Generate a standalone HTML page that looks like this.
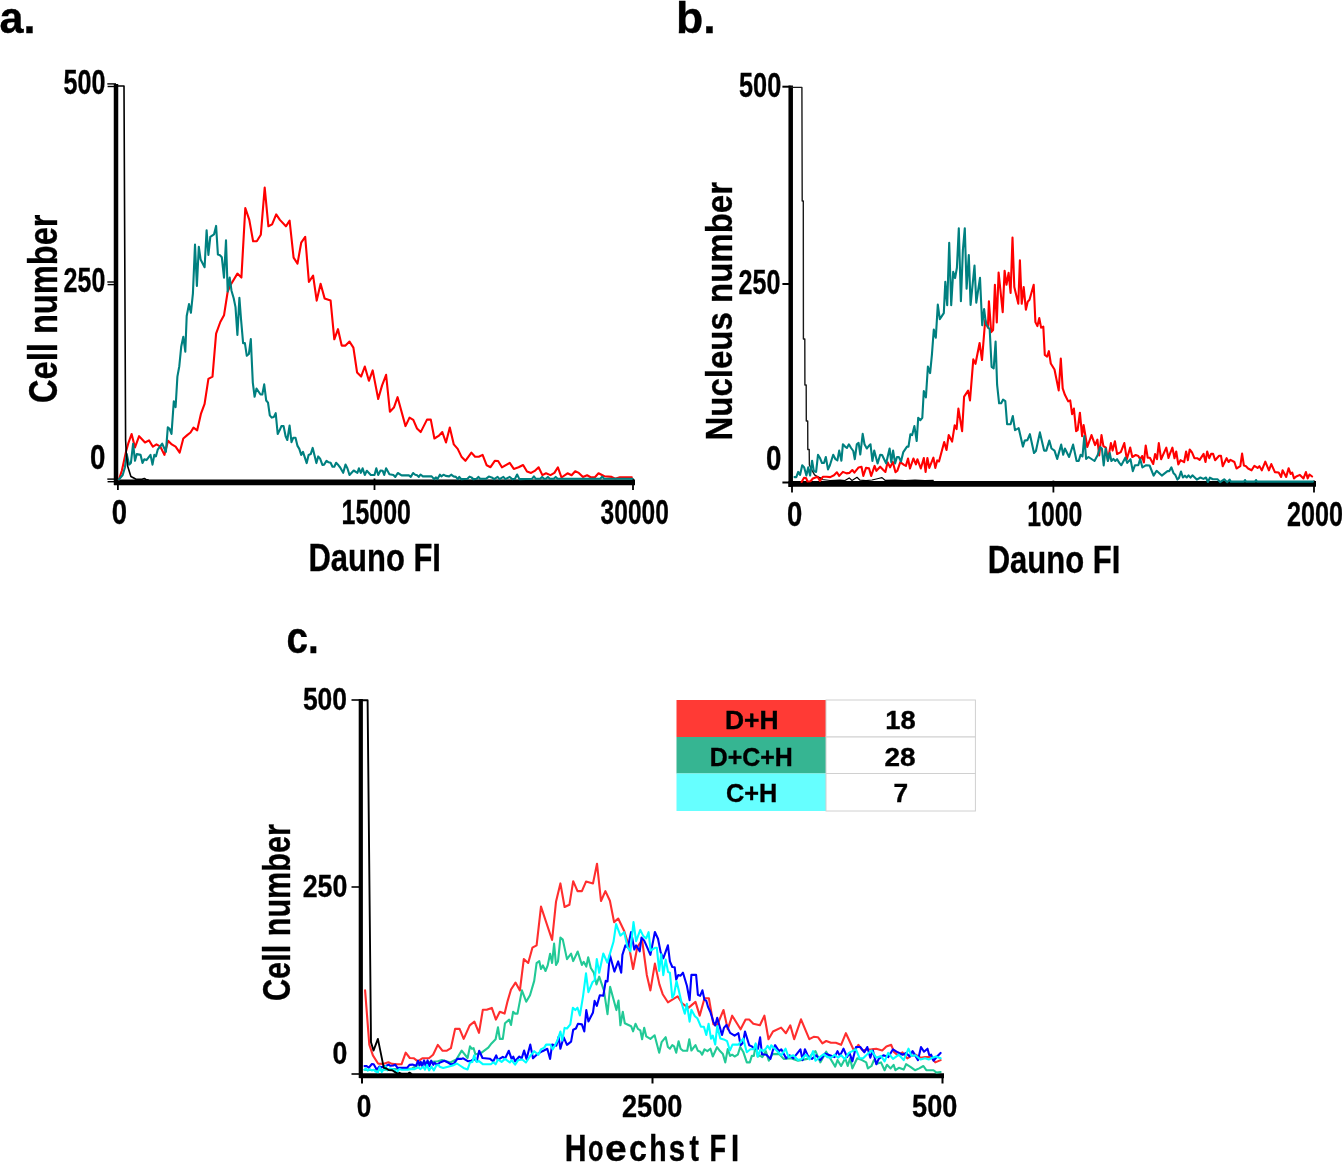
<!DOCTYPE html>
<html><head><meta charset="utf-8"><style>
html,body{margin:0;padding:0;background:#fff;}
svg{display:block;will-change:transform;}
</style></head><body>
<svg width="1342" height="1162" viewBox="0 0 1342 1162">
<rect width="1342" height="1162" fill="#fff"/>
<text x="-0.50" y="33.4" font-size="44" textLength="36.00" lengthAdjust="spacingAndGlyphs" font-family="Liberation Sans, sans-serif" font-weight="bold" stroke="#000" stroke-width="0.35" >a.</text>
<text x="676.00" y="33.0" font-size="44" textLength="39.70" lengthAdjust="spacingAndGlyphs" font-family="Liberation Sans, sans-serif" font-weight="bold" stroke="#000" stroke-width="0.35" >b.</text>
<text x="286.50" y="653.3" font-size="44" textLength="32.30" lengthAdjust="spacingAndGlyphs" font-family="Liberation Sans, sans-serif" font-weight="bold" stroke="#000" stroke-width="0.35" >c.</text>
<g stroke="#000" fill="none">
<line x1="116" y1="84" x2="116" y2="485" stroke-width="4.5"/>
<line x1="114" y1="482.4" x2="635" y2="482.4" stroke-width="5.8"/>
<line x1="107.3" y1="83.9" x2="116" y2="83.9" stroke-width="1.4"/>
<line x1="107.6" y1="86.5" x2="116" y2="86.5" stroke-width="1.4"/>
<line x1="107.3" y1="282.0" x2="116" y2="282.0" stroke-width="1.4"/>
<line x1="107.6" y1="284.6" x2="116" y2="284.6" stroke-width="1.4"/>
<line x1="107.3" y1="479.09999999999997" x2="116" y2="479.09999999999997" stroke-width="1.4"/>
<line x1="107.6" y1="481.7" x2="116" y2="481.7" stroke-width="1.4"/>
<line x1="117.9" y1="478.5" x2="117.9" y2="490" stroke-width="1.8"/>
<line x1="374.5" y1="478.5" x2="374.5" y2="490" stroke-width="1.8"/>
<line x1="633" y1="478.5" x2="633" y2="490" stroke-width="1.8"/>
</g>
<polyline points="118.9,479.5 121.9,470.5 126.1,451.1 128.2,443.7 131.6,434.0 135.0,447.4 139.1,436.2 142.0,439.2 145.0,442.5 149.0,440.4 152.9,446.7 156.5,444.4 160.4,446.7 164.4,454.9 168.1,440.7 171.8,444.4 175.6,446.7 179.7,452.6 183.3,438.5 187.2,435.1 190.5,432.5 193.5,427.6 197.2,430.3 200.9,413.9 204.6,403.8 208.4,378.9 212.5,376.6 216.1,333.7 220.3,322.0 224.0,315.3 227.7,291.5 230.7,284.8 237.4,273.6 241.4,277.6 245.3,208.0 249.3,219.9 253.1,241.2 256.8,241.2 260.8,234.8 264.7,187.6 268.4,226.3 272.1,224.4 276.2,214.4 279.9,219.9 285.9,226.3 289.6,220.7 293.6,257.6 297.5,263.6 301.2,242.7 305.2,236.8 308.9,282.0 313.1,275.7 316.7,300.6 320.6,283.8 324.6,298.4 330.6,300.6 334.3,339.3 338.0,329.2 341.7,345.6 345.5,345.6 349.5,341.6 353.4,347.6 357.1,372.5 361.1,376.6 364.8,366.5 368.9,380.8 372.7,370.4 378.2,399.0 382.0,385.6 386.1,374.8 389.9,411.7 393.9,407.6 397.6,397.2 405.5,426.1 409.5,417.6 413.3,419.9 417.0,428.5 420.7,432.1 427.0,419.6 430.8,419.6 434.4,438.5 438.6,435.9 442.3,432.1 446.0,442.5 449.8,427.6 453.8,444.4 457.7,448.9 461.7,457.1 465.4,460.8 471.4,452.6 475.1,456.8 478.8,456.8 482.6,454.9 486.7,465.3 490.5,467.2 494.8,460.8 498.1,461.0 501.9,467.3 509.7,462.9 513.8,468.9 518.6,467.3 523.1,465.0 527.0,471.5 531.1,472.9 534.7,470.9 538.6,467.3 542.4,475.1 546.0,473.3 550.5,475.1 554.4,472.9 557.9,467.3 561.5,477.5 567.5,473.3 571.6,475.3 575.2,471.3 578.8,472.9 583.0,476.9 587.1,475.3 590.7,477.2 594.9,477.2 598.5,473.3 604.4,476.3 611.6,476.9 615.1,478.7 619.9,477.2 631.8,477.2" fill="none" stroke="#ff0000" stroke-width="2.1" stroke-linejoin="round" stroke-linecap="round"/>
<polyline points="118.9,479.5 122.7,475.0 124.9,467.5 126.7,454.1 129.1,464.6 130.9,463.0 133.1,443.7 135.0,460.8 136.8,454.1 140.6,454.9 142.5,463.0 144.3,459.3 146.5,460.1 150.5,454.9 152.5,464.6 154.3,454.9 155.9,456.4 157.7,449.7 162.2,443.7 165.9,451.9 167.8,427.3 169.6,428.8 171.5,434.0 173.8,401.2 175.6,407.2 177.4,376.6 179.3,366.2 181.2,346.8 183.3,336.7 185.3,351.6 186.7,316.0 189.0,304.1 190.9,312.8 192.9,293.7 195.0,244.5 196.9,286.0 198.8,246.7 200.6,259.4 204.6,267.2 206.6,230.2 208.4,255.0 210.3,236.8 214.0,234.4 216.1,225.9 217.9,254.6 220.0,255.2 221.8,257.2 224.0,277.6 226.0,240.3 227.7,291.5 229.7,277.6 231.5,290.7 233.7,298.2 235.5,307.1 237.4,334.9 239.4,297.9 241.1,320.0 243.1,343.1 244.9,343.1 246.8,355.8 248.9,354.0 250.8,339.1 252.8,382.6 254.6,396.8 256.5,388.6 260.5,394.5 262.3,394.5 264.2,384.4 266.2,400.5 268.0,402.7 269.8,415.4 271.7,417.6 273.9,416.9 275.7,413.1 277.7,434.0 279.6,430.3 281.4,426.1 283.6,426.1 285.6,436.2 287.3,440.0 289.6,425.5 291.5,442.2 293.3,437.7 295.5,437.7 297.5,445.9 299.3,448.9 301.2,454.9 303.0,451.9 306.7,463.1 308.6,454.9 310.7,454.1 312.7,447.9 316.4,463.1 318.2,456.4 320.1,458.6 322.4,464.9 324.1,464.6 326.5,460.8 328.6,462.3 330.6,462.8 332.5,466.8 334.3,466.8 336.1,462.8 338.5,465.3 340.2,467.5 343.2,472.8 345.5,464.6 347.4,468.3 349.5,475.0 353.7,470.5 357.4,472.8 358.9,468.3 360.8,472.8 362.6,468.3 364.8,475.0 366.8,470.8 370.8,475.0 374.5,475.0 376.3,468.3 378.2,475.0 380.5,470.5 382.7,470.8 384.2,475.0 386.1,468.3 389.4,474.2 393.4,475.0 395.3,476.9 397.8,473.0 401.6,475.4 408.9,475.4 410.8,476.9 413.1,473.0 415.2,474.7 417.1,475.2 418.9,476.9 420.5,474.5 422.9,476.4 431.7,476.4 434.1,479.1 436.0,477.4 437.5,479.1 439.9,474.7 441.4,476.4 443.5,474.7 445.7,475.9 449.1,476.4 451.2,474.7 453.5,476.4 455.9,476.9 457.8,479.1 459.3,476.9 461.2,479.1 467.5,478.8 469.5,476.6 471.4,477.4 473.3,479.1 476.7,478.8 478.4,476.9 480.1,478.8 485.9,478.8 488.8,476.6 491.7,477.4 494.2,479.1 497.6,476.9 499.5,479.1 503.4,476.9 505.3,479.1 509.7,476.9 512.1,479.1 515.0,478.8 517.1,474.5 519.4,479.1 532.0,478.8 533.9,476.4 535.8,478.8 540.2,478.8 542.1,476.9 544.0,478.8 546.0,478.8 547.9,476.9 549.8,478.8 553.8,478.8 555.7,476.9 557.6,478.8 600.3,478.8 602.2,476.6 604.1,478.8 632.2,478.8" fill="none" stroke="#008080" stroke-width="2.1" stroke-linejoin="round" stroke-linecap="round"/>
<polyline points="117.0,86.0 124.0,86.0 125.6,440.0 126.2,452.0 127.6,466.0 130.9,476.5 133.8,478.0 136.0,479.2 142.0,479.3 144.3,478.5 146.0,479.5 148.0,479.8" fill="none" stroke="#000" stroke-width="1.6" stroke-linejoin="round" stroke-linecap="round"/>
<text x="63.40" y="93.8" font-size="35.5" textLength="42.00" lengthAdjust="spacingAndGlyphs" font-family="Liberation Sans, sans-serif" font-weight="bold" stroke="#000" stroke-width="0.35" >500</text>
<text x="63.60" y="291.7" font-size="35.5" textLength="41.70" lengthAdjust="spacingAndGlyphs" font-family="Liberation Sans, sans-serif" font-weight="bold" stroke="#000" stroke-width="0.35" >250</text>
<text x="90.00" y="468.5" font-size="35.5" textLength="15.40" lengthAdjust="spacingAndGlyphs" font-family="Liberation Sans, sans-serif" font-weight="bold" stroke="#000" stroke-width="0.35" >0</text>
<text x="111.70" y="523.9" font-size="35.5" textLength="15.30" lengthAdjust="spacingAndGlyphs" font-family="Liberation Sans, sans-serif" font-weight="bold" stroke="#000" stroke-width="0.35" >0</text>
<text x="341.60" y="524.0" font-size="35.5" textLength="69.40" lengthAdjust="spacingAndGlyphs" font-family="Liberation Sans, sans-serif" font-weight="bold" stroke="#000" stroke-width="0.35" >15000</text>
<text x="600.60" y="524.0" font-size="35.5" textLength="68.20" lengthAdjust="spacingAndGlyphs" font-family="Liberation Sans, sans-serif" font-weight="bold" stroke="#000" stroke-width="0.35" >30000</text>
<text x="308.40" y="571.2" font-size="39" textLength="132.60" lengthAdjust="spacingAndGlyphs" font-family="Liberation Sans, sans-serif" font-weight="bold" stroke="#000" stroke-width="0.35" >Dauno FI</text>
<text transform="translate(56.8,403.00) rotate(-90)" x="0" y="0" font-size="40" textLength="188.50" lengthAdjust="spacingAndGlyphs" font-family="Liberation Sans, sans-serif" font-weight="bold" stroke="#000" stroke-width="0.35">Cell number</text>
<g stroke="#000" fill="none">
<line x1="790.7" y1="85.5" x2="790.7" y2="487" stroke-width="4.5"/>
<line x1="788.5" y1="483.9" x2="1316" y2="483.9" stroke-width="5.6"/>
<line x1="782.4" y1="86.7" x2="790.7" y2="86.7" stroke-width="2"/>
<line x1="782.4" y1="284" x2="790.7" y2="284" stroke-width="2"/>
<line x1="782.4" y1="482.5" x2="790.7" y2="482.5" stroke-width="2"/>
<line x1="792" y1="480.6" x2="792" y2="492.5" stroke-width="1.8"/>
<line x1="1053.4" y1="480.6" x2="1053.4" y2="492.5" stroke-width="1.8"/>
<line x1="1314" y1="480.6" x2="1314" y2="492.5" stroke-width="1.8"/>
</g>
<polyline points="791.0,87.4 801.9,87.4 802.2,201.0 803.3,201.0 803.4,339.0 804.8,339.0 804.9,385.0 806.2,385.0 806.3,421.0 807.7,421.0 807.8,449.5 809.2,449.5 809.4,465.0 812.4,471.1 814.6,474.9 817.6,476.8 822.0,478.5" fill="none" stroke="#1a1a1a" stroke-width="1.4" stroke-linejoin="round" stroke-linecap="round"/>
<polyline points="817.6,476.8 822.0,479.5 830.0,480.5 840.0,480.2 845.0,480.6 849.2,477.9 852.0,480.5 857.0,477.3 860.0,480.2 866.0,480.6 872.0,480.0 878.4,478.5 882.0,477.6 885.0,480.3 895.0,480.2 905.0,480.6 915.0,480.1 925.0,480.5 933.3,480.3" fill="none" stroke="#000" stroke-width="1.2" stroke-linejoin="round" stroke-linecap="round"/>
<polyline points="801.6,482.0 803.9,477.9 806.0,478.0 807.5,481.5 810.5,481.3 812.9,478.5 817.6,476.7 820.0,480.9 823.0,476.7 826.5,476.8 830.2,477.1 834.0,475.3 836.9,472.3 839.2,475.9 842.9,471.9 846.6,473.4 849.3,472.9 852.3,470.0 854.4,472.6 858.6,467.4 861.5,466.7 863.3,475.9 866.0,467.9 869.0,468.2 871.2,475.9 874.6,465.9 876.4,470.8 880.2,466.7 883.1,469.7 885.4,471.9 887.6,462.2 890.1,467.4 892.8,461.9 895.5,472.3 897.3,470.8 900.3,462.2 904.0,464.9 905.9,465.9 908.0,458.5 910.0,468.5 913.4,458.5 915.9,464.4 917.4,459.2 920.8,468.5 923.8,458.0 925.6,471.9 927.4,458.0 929.3,467.9 933.4,457.7 935.3,467.9 937.2,460.4 939.0,461.5 944.2,442.1 946.5,450.0 948.7,435.1 952.1,441.6 954.7,425.2 956.6,429.1 958.4,408.6 962.1,431.2 964.1,396.6 968.1,390.7 970.0,400.4 973.3,359.4 975.5,363.8 979.6,343.0 982.0,360.0 985.2,320.1 987.9,327.6 988.9,301.2 991.2,332.1 993.1,330.0 994.9,284.8 996.8,322.5 998.6,272.5 1002.7,312.1 1004.6,270.7 1006.5,284.8 1008.6,272.9 1010.6,293.0 1012.5,237.6 1014.3,287.1 1018.3,303.8 1019.9,260.2 1021.7,303.8 1023.7,287.1 1025.9,309.7 1027.7,301.7 1029.5,299.7 1033.7,284.8 1035.4,322.1 1037.4,326.1 1039.3,318.1 1041.1,327.6 1043.3,326.6 1044.8,354.9 1047.1,356.7 1048.9,351.2 1050.8,363.5 1054.5,369.5 1058.7,390.4 1060.8,358.6 1062.7,388.4 1064.9,394.8 1068.2,401.4 1070.2,400.4 1072.1,414.2 1073.9,408.6 1076.1,431.2 1077.6,430.2 1079.9,412.7 1082.1,436.1 1083.6,425.0 1087.3,447.0 1091.5,435.1 1095.1,445.1 1097.4,439.6 1099.2,455.5 1101.5,435.1 1103.4,446.1 1105.9,447.6 1107.9,460.4 1110.9,443.1 1112.6,450.6 1114.9,441.3 1117.1,454.0 1120.8,452.1 1124.3,443.1 1126.8,459.2 1130.2,447.6 1132.3,457.0 1135.7,455.0 1138.3,456.0 1140.2,459.2 1142.1,456.0 1143.9,462.5 1145.7,445.5 1147.7,457.7 1149.9,457.7 1153.2,464.0 1155.1,454.0 1157.0,459.2 1158.8,443.1 1161.1,459.2 1166.3,447.6 1168.5,458.0 1170.0,453.6 1172.4,447.7 1174.5,458.2 1176.2,451.5 1178.3,464.4 1180.5,460.2 1184.1,462.2 1186.1,451.5 1187.9,460.2 1189.7,449.5 1192.0,452.4 1194.4,458.2 1197.2,458.2 1199.6,459.8 1203.6,453.9 1205.5,462.0 1207.2,451.5 1209.3,458.2 1211.1,453.9 1213.1,453.9 1215.1,460.2 1219.1,455.8 1221.0,455.8 1222.7,466.2 1226.6,458.2 1228.6,462.0 1230.5,459.8 1234.4,462.0 1236.5,468.5 1240.3,466.2 1242.1,453.6 1243.9,465.6 1246.0,466.2 1248.1,468.5 1251.6,470.3 1254.4,465.8 1257.6,467.9 1259.4,466.2 1261.8,470.3 1265.3,461.7 1268.9,470.3 1271.3,464.1 1274.9,472.1 1278.7,472.5 1281.1,476.9 1282.6,470.3 1286.2,476.9 1288.6,468.2 1290.6,473.9 1292.2,472.5 1294.0,478.4 1296.3,476.5 1299.9,474.9 1303.5,478.4 1305.9,472.1 1307.7,478.4 1309.5,474.5 1312.1,476.5" fill="none" stroke="#ff0000" stroke-width="2.1" stroke-linejoin="round" stroke-linecap="round"/>
<polyline points="794.5,477.1 796.3,477.1 798.2,471.9 800.1,474.9 802.2,465.2 804.2,467.4 806.4,475.6 808.2,467.4 810.1,475.6 812.1,460.7 813.8,471.1 816.1,471.9 818.0,454.8 819.8,457.7 822.0,463.0 824.0,463.0 825.8,457.0 828.0,469.4 829.9,465.2 833.2,454.8 835.5,459.2 837.4,460.4 839.2,450.6 841.4,460.7 842.9,444.3 845.1,446.6 846.9,448.0 848.9,444.3 851.1,448.0 853.3,451.0 854.8,459.2 856.8,444.3 858.6,442.8 860.3,454.5 862.7,433.9 864.5,444.3 866.8,448.5 868.7,446.1 870.5,444.3 872.4,461.0 874.2,450.6 877.6,463.4 880.2,454.8 882.1,455.0 886.1,463.4 889.6,448.5 891.3,462.2 893.1,450.6 895.1,463.4 897.0,457.0 898.8,457.0 901.0,461.5 903.3,452.1 907.0,446.6 908.5,446.6 910.4,434.2 912.2,435.1 914.4,426.1 916.7,441.0 918.2,417.8 920.4,420.2 922.3,417.8 923.8,391.0 925.9,397.4 927.9,366.5 930.1,373.1 931.9,354.9 933.8,329.5 935.8,337.7 937.8,304.6 939.8,319.1 943.8,313.1 945.3,281.8 947.2,305.2 949.2,242.7 951.2,305.2 953.2,271.9 955.1,278.1 956.9,267.7 958.8,228.2 960.9,301.2 962.9,249.8 964.8,228.2 966.6,288.6 968.8,255.0 970.6,304.9 974.5,265.5 976.3,302.7 980.0,277.8 982.2,325.3 984.1,309.1 986.0,324.0 989.7,329.5 991.6,366.8 993.7,368.3 995.6,341.6 997.1,384.7 999.1,403.3 1001.2,403.3 1003.1,399.6 1005.3,401.1 1007.1,424.2 1010.6,424.2 1012.8,416.0 1015.0,430.2 1018.7,428.2 1022.9,446.6 1024.7,440.6 1027.4,440.1 1029.9,434.2 1034.0,453.0 1035.9,451.0 1039.9,432.4 1044.1,450.6 1046.3,450.6 1049.3,440.6 1051.5,448.5 1054.5,450.6 1057.2,458.9 1061.2,444.6 1063.2,454.8 1064.9,448.5 1069.1,457.0 1073.1,444.6 1076.6,461.0 1078.7,461.0 1080.6,454.8 1082.5,456.5 1084.3,436.1 1086.1,458.9 1088.5,457.0 1094.5,461.0 1097.7,455.0 1100.0,447.0 1101.9,448.5 1103.7,465.5 1105.6,448.5 1107.9,461.0 1109.7,453.0 1111.4,461.0 1113.4,458.9 1115.3,461.0 1117.1,459.2 1119.3,462.9 1121.3,465.2 1125.3,457.7 1127.2,462.9 1130.5,459.2 1132.8,471.1 1135.0,465.2 1138.3,465.2 1140.2,458.9 1142.4,467.4 1146.2,465.2 1149.6,465.5 1153.6,475.6 1156.6,470.8 1161.8,475.6 1167.5,471.1 1169.3,471.1 1171.4,467.3 1173.6,473.3 1175.4,475.1 1177.4,479.6 1178.9,478.1 1181.0,471.5 1182.9,477.5 1184.9,475.7 1186.7,477.5 1188.5,475.3 1190.5,477.7 1192.4,475.3 1196.8,479.6 1200.4,477.5 1203.4,478.9 1206.0,477.5 1207.9,482.0 1209.9,477.7 1212.9,479.3 1217.7,479.3 1220.1,482.2 1224.2,479.3 1227.2,482.2 1229.6,479.6 1230.8,481.6 1244.0,481.6 1245.0,480.0 1246.0,481.6 1255.0,481.6 1256.0,480.0 1257.0,481.6 1313.0,481.6" fill="none" stroke="#008080" stroke-width="2.1" stroke-linejoin="round" stroke-linecap="round"/>
<text x="739.00" y="96.5" font-size="35.5" textLength="42.20" lengthAdjust="spacingAndGlyphs" font-family="Liberation Sans, sans-serif" font-weight="bold" stroke="#000" stroke-width="0.35" >500</text>
<text x="738.60" y="293.9" font-size="35.5" textLength="41.90" lengthAdjust="spacingAndGlyphs" font-family="Liberation Sans, sans-serif" font-weight="bold" stroke="#000" stroke-width="0.35" >250</text>
<text x="766.00" y="470.1" font-size="35.5" textLength="15.40" lengthAdjust="spacingAndGlyphs" font-family="Liberation Sans, sans-serif" font-weight="bold" stroke="#000" stroke-width="0.35" >0</text>
<text x="787.00" y="526.2" font-size="35.5" textLength="15.30" lengthAdjust="spacingAndGlyphs" font-family="Liberation Sans, sans-serif" font-weight="bold" stroke="#000" stroke-width="0.35" >0</text>
<text x="1027.20" y="526.4" font-size="35.5" textLength="55.10" lengthAdjust="spacingAndGlyphs" font-family="Liberation Sans, sans-serif" font-weight="bold" stroke="#000" stroke-width="0.35" >1000</text>
<text x="1287.00" y="526.4" font-size="35.5" textLength="56.00" lengthAdjust="spacingAndGlyphs" font-family="Liberation Sans, sans-serif" font-weight="bold" stroke="#000" stroke-width="0.35" >2000</text>
<text x="987.70" y="573.4" font-size="39" textLength="132.70" lengthAdjust="spacingAndGlyphs" font-family="Liberation Sans, sans-serif" font-weight="bold" stroke="#000" stroke-width="0.35" >Dauno FI</text>
<text transform="translate(732.0,440.50) rotate(-90)" x="0" y="0" font-size="37.5" textLength="258.50" lengthAdjust="spacingAndGlyphs" font-family="Liberation Sans, sans-serif" font-weight="bold" stroke="#000" stroke-width="0.35">Nucleus number</text>
<g stroke="#000" fill="none">
<line x1="360.8" y1="699" x2="360.8" y2="1078" stroke-width="4.2"/>
<line x1="359.5" y1="1075.8" x2="944" y2="1075.8" stroke-width="5"/>
<line x1="351.5" y1="700" x2="360.8" y2="700" stroke-width="1.6"/>
<line x1="351.5" y1="887" x2="360.8" y2="887" stroke-width="1.6"/>
<line x1="351.5" y1="1074" x2="360.8" y2="1074" stroke-width="1.6"/>
<line x1="362" y1="1077" x2="362" y2="1083.5" stroke-width="2"/>
<line x1="652.5" y1="1077" x2="652.5" y2="1083.5" stroke-width="2"/>
<line x1="942.5" y1="1077" x2="942.5" y2="1083.5" stroke-width="2"/>
</g>
<polyline points="364.5,1069.7 372.0,1070.0 383.6,1069.7 395.0,1069.0 405.0,1068.8 412.2,1068.5 420.6,1063.0 430.0,1062.0 437.8,1061.3 442.0,1060.1 450.4,1062.5 456.3,1059.5 461.7,1050.6 467.6,1058.0 470.0,1046.4 471.8,1048.8 473.6,1048.2 475.4,1054.4 481.6,1052.7 488.3,1047.6 491.5,1043.4 495.6,1039.3 498.0,1027.3 499.8,1038.9 502.8,1038.9 505.0,1023.2 509.2,1019.6 511.0,1025.0 513.1,1011.8 515.1,1013.6 517.5,1013.6 521.9,990.4 526.2,1001.7 530.0,995.2 534.2,980.9 536.6,963.2 539.3,961.1 541.0,969.0 542.9,965.4 545.5,971.0 547.7,965.4 550.1,953.7 552.1,963.0 554.1,943.6 556.0,965.0 558.0,961.4 560.4,937.6 562.8,939.6 567.0,959.1 571.1,953.7 573.2,961.1 577.7,951.5 581.9,965.0 583.7,961.8 586.3,966.6 588.2,957.3 590.8,968.0 593.8,972.6 596.5,984.4 599.2,976.7 603.9,990.4 607.5,1014.2 610.1,986.8 616.4,1010.1 618.5,1000.5 620.4,1025.3 622.8,1011.8 624.8,1023.2 631.1,1026.2 633.1,1031.3 635.5,1023.8 637.9,1028.9 640.3,1030.3 642.1,1039.3 644.2,1027.7 646.2,1036.3 650.4,1038.9 654.6,1035.3 659.2,1052.7 661.6,1042.2 665.7,1037.2 667.9,1047.0 669.9,1048.7 672.3,1045.2 674.1,1046.4 676.2,1052.7 678.6,1041.2 680.6,1048.7 683.0,1050.8 687.2,1050.8 689.3,1039.2 691.4,1050.5 695.5,1045.2 697.9,1050.8 700.3,1051.7 702.1,1054.7 704.5,1049.3 707.4,1051.1 710.4,1048.7 712.8,1056.5 717.0,1047.2 720.0,1051.1 722.9,1054.1 725.3,1062.4 727.7,1049.1 730.1,1055.9 732.2,1054.7 734.6,1056.5 737.8,1054.7 740.2,1047.0 743.2,1051.7 746.8,1062.4 749.8,1062.4 751.8,1055.9 753.9,1055.9 755.7,1044.6 757.7,1056.5 759.9,1055.3 762.3,1057.1 765.8,1051.1 768.8,1060.7 772.4,1054.1 779.0,1053.9 783.7,1058.9 790.9,1058.3 798.0,1060.7 807.2,1058.9 815.5,1051.1 820.3,1062.4 826.2,1051.7 835.2,1066.6 837.5,1060.1 841.1,1066.0 845.3,1058.3 847.7,1066.0 850.1,1058.3 852.4,1068.4 857.2,1058.3 862.0,1060.1 866.2,1062.4 867.9,1068.4 871.5,1066.0 873.9,1060.1 877.5,1063.6 881.0,1062.4 884.6,1070.2 887.0,1064.8 890.6,1068.4 893.6,1064.8 895.4,1070.2 898.9,1067.8 903.7,1069.6 906.1,1064.2 910.8,1067.2 915.0,1070.2 919.2,1068.4 923.4,1066.0 926.3,1070.2 933.5,1070.2 936.5,1072.6 940.6,1072.0" fill="none" stroke="#22c996" stroke-width="2.1" stroke-linejoin="round" stroke-linecap="round"/>
<polyline points="365.1,990.4 369.3,1044.6 372.9,1055.4 378.2,1063.7 383.0,1063.9 388.4,1062.3 392.0,1063.9 397.3,1064.3 401.5,1064.3 405.7,1052.7 409.8,1058.0 414.0,1058.3 417.9,1061.3 422.3,1058.3 428.9,1058.3 433.1,1054.8 437.8,1044.9 442.6,1050.8 446.5,1050.8 450.9,1048.2 455.1,1028.9 459.6,1028.9 463.7,1038.9 469.7,1025.3 474.4,1021.7 479.0,1032.9 482.8,1009.8 486.7,1009.8 491.8,1007.9 495.9,1019.6 499.8,1011.8 504.6,1013.6 507.6,1001.1 511.0,989.5 515.5,982.6 519.9,990.4 523.8,959.1 528.2,963.0 532.4,947.7 536.6,945.4 541.0,906.6 552.1,940.0 556.0,901.8 560.4,883.4 564.6,907.0 569.4,904.8 573.2,881.2 577.5,891.1 581.9,891.1 586.0,881.6 593.0,883.4 597.0,863.7 601.0,901.0 605.4,891.1 609.9,900.7 614.1,922.1 618.2,918.5 624.2,931.0 629.0,946.3 633.1,969.0 637.3,947.1 642.1,940.0 646.8,974.9 650.4,990.4 654.9,963.6 659.4,984.4 662.7,994.2 667.9,1002.3 677.6,996.3 682.4,1003.7 688.4,1007.9 695.5,1001.9 699.7,1015.6 704.5,998.3 708.9,998.3 713.4,1024.3 717.0,1025.5 723.5,1010.0 727.7,1029.1 732.2,1015.7 740.6,1029.3 745.6,1019.5 749.2,1019.5 753.3,1023.7 759.9,1025.3 764.4,1015.7 768.5,1039.2 773.0,1031.5 781.1,1027.6 785.9,1033.2 790.3,1025.3 794.2,1039.2 801.0,1019.3 809.3,1039.2 813.7,1036.8 817.9,1037.2 822.4,1043.4 826.2,1041.0 831.0,1042.8 835.8,1042.8 841.1,1044.8 845.9,1033.2 850.1,1042.2 854.2,1051.1 858.4,1044.8 862.6,1050.5 867.0,1049.5 871.5,1049.3 876.3,1048.7 882.2,1050.5 886.4,1046.4 891.2,1044.8 894.2,1052.3 897.7,1055.3 902.5,1052.3 907.3,1058.3 911.4,1055.9 915.6,1054.7 920.4,1057.7 925.1,1057.1 931.1,1057.1 935.3,1062.4 940.6,1060.1" fill="none" stroke="#ff2e2e" stroke-width="2.1" stroke-linejoin="round" stroke-linecap="round"/>
<polyline points="364.5,1066.1 366.6,1066.1 368.9,1067.6 371.9,1064.0 373.7,1064.3 376.1,1068.5 377.3,1069.1 379.5,1066.5 381.5,1067.5 383.5,1066.5 386.2,1065.8 388.6,1064.6 390.4,1065.8 393.4,1065.5 395.2,1064.6 397.5,1067.9 400.5,1067.9 407.1,1067.9 409.5,1064.9 412.4,1064.6 416.0,1065.8 418.1,1060.7 419.6,1065.5 420.8,1061.9 422.3,1066.1 424.1,1060.4 425.6,1066.1 427.6,1060.4 429.4,1066.1 431.2,1060.7 433.3,1064.9 434.5,1062.5 436.9,1064.9 440.0,1062.5 444.4,1060.7 448.0,1062.5 450.9,1064.3 453.9,1063.7 457.3,1058.9 461.1,1058.9 463.2,1058.3 468.2,1061.3 471.2,1060.7 474.2,1058.9 476.8,1061.3 479.2,1050.8 482.5,1058.0 489.7,1058.7 493.3,1061.3 496.2,1055.4 497.8,1059.9 502.8,1056.8 505.2,1058.3 508.8,1050.8 511.6,1058.9 513.3,1056.5 515.1,1061.3 519.3,1056.5 521.7,1058.3 524.1,1050.6 526.5,1058.9 530.3,1044.6 533.0,1058.3 537.2,1054.2 542.5,1051.2 547.3,1048.8 550.1,1058.9 552.1,1044.6 556.3,1045.8 558.6,1036.9 560.4,1048.8 563.6,1037.2 567.0,1044.9 571.1,1041.6 573.2,1029.7 575.9,1028.5 577.9,1023.8 581.9,1024.4 584.3,1031.5 586.3,1010.1 588.4,1021.4 593.0,1012.4 594.6,1000.8 596.8,1005.9 599.8,995.2 603.3,995.8 605.7,980.9 607.5,981.5 609.9,954.9 614.4,971.6 618.2,961.4 621.2,972.8 622.4,954.9 625.4,945.4 627.8,947.5 631.1,932.0 634.3,949.5 636.1,945.4 639.7,951.3 641.5,937.6 644.2,940.6 646.2,945.1 650.4,954.9 654.9,932.0 658.0,938.7 660.7,952.4 663.3,958.4 667.9,945.3 669.9,961.4 672.3,967.0 674.7,967.3 676.2,979.6 678.2,975.1 680.6,975.7 683.0,972.7 686.9,985.8 689.6,1000.1 691.4,974.9 696.1,974.9 697.9,994.8 700.1,995.9 702.4,990.3 704.5,999.9 706.3,1000.7 708.0,1006.7 710.4,1012.0 713.4,1021.9 715.2,1025.5 717.2,1017.7 719.4,1025.5 722.0,1035.0 723.9,1027.9 726.5,1024.9 730.1,1032.9 734.6,1035.6 738.4,1033.2 740.6,1045.2 743.0,1042.8 745.0,1031.5 749.2,1045.2 751.8,1046.4 754.5,1048.7 758.0,1048.7 760.1,1037.4 762.0,1054.3 766.4,1054.7 770.4,1058.9 772.8,1050.5 775.1,1045.2 779.0,1051.1 781.3,1049.3 786.1,1058.3 789.7,1055.3 793.3,1058.3 800.4,1049.3 802.6,1060.1 804.9,1049.3 808.5,1057.1 811.9,1058.9 816.1,1055.3 820.3,1060.1 825.0,1053.5 829.8,1055.3 834.6,1057.1 837.5,1051.1 839.9,1055.9 843.5,1048.7 847.1,1057.1 849.5,1052.9 852.4,1061.3 856.0,1047.0 860.2,1047.0 864.4,1052.3 867.3,1047.0 870.3,1057.7 872.9,1050.5 876.3,1064.2 878.7,1058.9 883.4,1055.3 888.2,1057.1 893.0,1049.3 897.7,1052.3 902.5,1054.7 906.1,1052.9 909.7,1056.5 912.6,1051.1 918.0,1060.1 921.0,1047.0 924.0,1051.7 927.5,1048.7 929.3,1055.3 931.1,1054.7 933.5,1060.7 937.1,1056.5 940.6,1052.9" fill="none" stroke="#0000ff" stroke-width="2.1" stroke-linejoin="round" stroke-linecap="round"/>
<polyline points="364.5,1069.7 366.0,1068.5 367.7,1070.6 369.8,1069.1 371.8,1070.5 373.7,1069.7 375.5,1071.5 377.9,1072.3 379.7,1067.3 381.8,1072.0 383.5,1069.7 385.6,1066.1 387.4,1070.3 389.8,1068.5 392.2,1069.1 394.6,1070.3 397.0,1072.0 399.3,1069.1 401.7,1069.7 407.7,1069.7 410.7,1069.1 414.6,1069.1 418.4,1067.3 420.2,1069.1 423.2,1066.7 425.0,1069.7 427.0,1064.9 429.1,1070.3 431.5,1066.7 433.9,1070.3 436.3,1065.5 438.7,1064.9 439.6,1066.7 443.2,1067.9 448.0,1066.7 452.7,1065.5 456.9,1063.5 459.9,1065.5 463.5,1067.9 467.6,1069.4 470.0,1062.5 472.4,1061.9 474.2,1055.4 476.6,1061.9 479.0,1061.1 483.1,1064.3 490.9,1064.3 493.3,1062.3 495.6,1064.3 498.0,1059.5 501.6,1061.9 505.0,1058.9 509.8,1062.5 511.6,1060.1 515.1,1064.6 518.1,1060.1 522.3,1059.5 525.9,1062.5 530.6,1055.4 534.2,1051.2 538.4,1054.8 540.8,1049.4 544.3,1047.6 546.1,1044.6 550.3,1044.6 552.7,1049.4 557.4,1040.5 560.4,1031.5 562.2,1040.5 564.6,1027.9 567.0,1028.5 570.3,1024.4 572.9,1007.7 575.3,1010.1 577.5,1007.7 579.9,1015.4 583.1,995.8 586.0,973.3 588.4,992.2 592.6,982.0 594.6,980.5 596.8,959.1 599.2,972.8 603.3,953.5 607.3,962.6 613.5,941.8 616.1,924.1 620.4,935.6 624.2,932.2 627.5,947.1 630.4,951.3 633.5,922.1 636.1,941.2 640.3,929.9 643.3,936.1 646.2,938.4 648.6,932.2 650.6,950.7 655.4,947.7 656.8,947.7 659.2,970.9 661.2,954.2 663.3,975.1 665.7,959.6 668.1,972.1 669.9,972.7 672.3,997.7 674.1,994.2 676.5,981.0 678.8,990.6 681.8,1003.7 684.8,1013.8 686.9,1003.7 689.6,1021.6 691.4,1009.7 694.9,1016.2 697.3,1018.2 700.9,1026.7 703.9,1026.7 706.3,1035.0 708.6,1023.7 711.0,1038.6 712.8,1035.6 715.2,1044.6 717.2,1026.1 720.3,1038.6 724.7,1039.8 727.1,1041.2 729.9,1050.5 732.5,1044.6 738.4,1044.6 743.2,1038.6 746.8,1052.3 750.4,1049.3 753.9,1049.3 755.7,1043.4 757.7,1056.5 760.5,1049.3 762.9,1051.1 765.8,1048.7 767.6,1045.8 770.0,1049.3 771.2,1045.2 776.6,1050.5 781.3,1055.3 785.5,1048.7 788.5,1057.1 793.3,1055.3 798.0,1060.1 801.6,1058.9 803.6,1057.1 806.0,1054.7 809.5,1059.5 813.1,1051.1 815.5,1060.7 819.1,1057.7 823.8,1054.1 827.4,1057.1 831.0,1057.7 834.6,1054.7 838.1,1057.7 841.1,1055.3 844.7,1058.9 848.9,1052.9 852.4,1051.1 856.0,1049.3 859.6,1058.3 863.2,1058.3 866.7,1054.7 871.5,1050.5 876.3,1057.7 881.0,1055.9 884.6,1061.3 888.2,1052.9 893.0,1058.9 898.9,1054.7 903.7,1060.1 908.5,1048.7 911.4,1055.9 915.6,1055.3 920.4,1059.5 925.1,1058.3 928.7,1059.5 932.3,1057.7 935.9,1056.5 940.6,1058.3" fill="none" stroke="#00ffff" stroke-width="2.1" stroke-linejoin="round" stroke-linecap="round"/>
<polyline points="361.0,700.3 367.6,700.3 371.0,1042.2 373.5,1050.6 377.9,1038.9 383.8,1067.9 386.0,1068.2 388.6,1070.0 392.2,1070.3 395.8,1072.6 398.1,1073.8 399.5,1072.8 401.7,1073.8 408.0,1073.8 409.5,1072.6 411.3,1073.8" fill="none" stroke="#000" stroke-width="1.9" stroke-linejoin="round" stroke-linecap="round"/>
<text x="302.90" y="709.7" font-size="32" textLength="44.10" lengthAdjust="spacingAndGlyphs" font-family="Liberation Sans, sans-serif" font-weight="bold" stroke="#000" stroke-width="0.35" >500</text>
<text x="302.70" y="896.6" font-size="32" textLength="44.70" lengthAdjust="spacingAndGlyphs" font-family="Liberation Sans, sans-serif" font-weight="bold" stroke="#000" stroke-width="0.35" >250</text>
<text x="332.50" y="1064.2" font-size="32" textLength="14.80" lengthAdjust="spacingAndGlyphs" font-family="Liberation Sans, sans-serif" font-weight="bold" stroke="#000" stroke-width="0.35" >0</text>
<text x="356.70" y="1116.8" font-size="32" textLength="14.60" lengthAdjust="spacingAndGlyphs" font-family="Liberation Sans, sans-serif" font-weight="bold" stroke="#000" stroke-width="0.35" >0</text>
<text x="622.00" y="1116.7" font-size="32" textLength="60.40" lengthAdjust="spacingAndGlyphs" font-family="Liberation Sans, sans-serif" font-weight="bold" stroke="#000" stroke-width="0.35" >2500</text>
<text x="912.10" y="1116.7" font-size="32" textLength="45.20" lengthAdjust="spacingAndGlyphs" font-family="Liberation Sans, sans-serif" font-weight="bold" stroke="#000" stroke-width="0.35" >500</text>
<text x="564.80" y="1160.8" font-size="37" textLength="21.80" lengthAdjust="spacingAndGlyphs" font-family="Liberation Sans, sans-serif" font-weight="bold" stroke="#000" stroke-width="0.35" >H</text>
<text x="588.00" y="1160.8" font-size="37" textLength="15.50" lengthAdjust="spacingAndGlyphs" font-family="Liberation Sans, sans-serif" font-weight="bold" stroke="#000" stroke-width="0.35" >o</text>
<text x="604.90" y="1160.8" font-size="37" textLength="21.70" lengthAdjust="spacingAndGlyphs" font-family="Liberation Sans, sans-serif" font-weight="bold" stroke="#000" stroke-width="0.35" >e</text>
<text x="629.00" y="1160.8" font-size="37" textLength="17.90" lengthAdjust="spacingAndGlyphs" font-family="Liberation Sans, sans-serif" font-weight="bold" stroke="#000" stroke-width="0.35" >c</text>
<text x="649.20" y="1160.8" font-size="37" textLength="17.40" lengthAdjust="spacingAndGlyphs" font-family="Liberation Sans, sans-serif" font-weight="bold" stroke="#000" stroke-width="0.35" >h</text>
<text x="668.80" y="1160.8" font-size="37" textLength="16.40" lengthAdjust="spacingAndGlyphs" font-family="Liberation Sans, sans-serif" font-weight="bold" stroke="#000" stroke-width="0.35" >s</text>
<text x="689.50" y="1160.8" font-size="37" textLength="9.40" lengthAdjust="spacingAndGlyphs" font-family="Liberation Sans, sans-serif" font-weight="bold" stroke="#000" stroke-width="0.35" >t</text>
<text x="709.60" y="1160.8" font-size="37" textLength="16.60" lengthAdjust="spacingAndGlyphs" font-family="Liberation Sans, sans-serif" font-weight="bold" stroke="#000" stroke-width="0.35" >F</text>
<text x="730.90" y="1160.8" font-size="37" textLength="8.10" lengthAdjust="spacingAndGlyphs" font-family="Liberation Sans, sans-serif" font-weight="bold" stroke="#000" stroke-width="0.35" >I</text>
<text transform="translate(289.7,1001.00) rotate(-90)" x="0" y="0" font-size="38" textLength="177.00" lengthAdjust="spacingAndGlyphs" font-family="Liberation Sans, sans-serif" font-weight="bold" stroke="#000" stroke-width="0.35">Cell number</text>
<rect x="676.5" y="700" width="149.5" height="37" fill="#ff3a35"/>
<rect x="826" y="700" width="149.39999999999998" height="37" fill="#fff" stroke="#d0d0d0" stroke-width="1"/>
<text x="724.90" y="728.6" font-size="25" textLength="53.60" lengthAdjust="spacingAndGlyphs" font-family="Liberation Sans, sans-serif" font-weight="bold" stroke="#000" stroke-width="0.35" >D+H</text>
<text x="885.20" y="728.6" font-size="25" textLength="30.40" lengthAdjust="spacingAndGlyphs" font-family="Liberation Sans, sans-serif" font-weight="bold" stroke="#000" stroke-width="0.35" >18</text>
<rect x="676.5" y="737" width="149.5" height="36.5" fill="#36b592"/>
<rect x="826" y="737" width="149.39999999999998" height="36.5" fill="#fff" stroke="#d0d0d0" stroke-width="1"/>
<text x="709.70" y="765.6" font-size="25" textLength="83.00" lengthAdjust="spacingAndGlyphs" font-family="Liberation Sans, sans-serif" font-weight="bold" stroke="#000" stroke-width="0.35" >D+C+H</text>
<text x="884.50" y="765.6" font-size="25" textLength="31.10" lengthAdjust="spacingAndGlyphs" font-family="Liberation Sans, sans-serif" font-weight="bold" stroke="#000" stroke-width="0.35" >28</text>
<rect x="676.5" y="773.5" width="149.5" height="37.5" fill="#66ffff"/>
<rect x="826" y="773.5" width="149.39999999999998" height="37.5" fill="#fff" stroke="#d0d0d0" stroke-width="1"/>
<text x="726.10" y="802.1" font-size="25" textLength="51.20" lengthAdjust="spacingAndGlyphs" font-family="Liberation Sans, sans-serif" font-weight="bold" stroke="#000" stroke-width="0.35" >C+H</text>
<text x="893.40" y="802.1" font-size="25" textLength="14.60" lengthAdjust="spacingAndGlyphs" font-family="Liberation Sans, sans-serif" font-weight="bold" stroke="#000" stroke-width="0.35" >7</text>
</svg>
</body></html>
